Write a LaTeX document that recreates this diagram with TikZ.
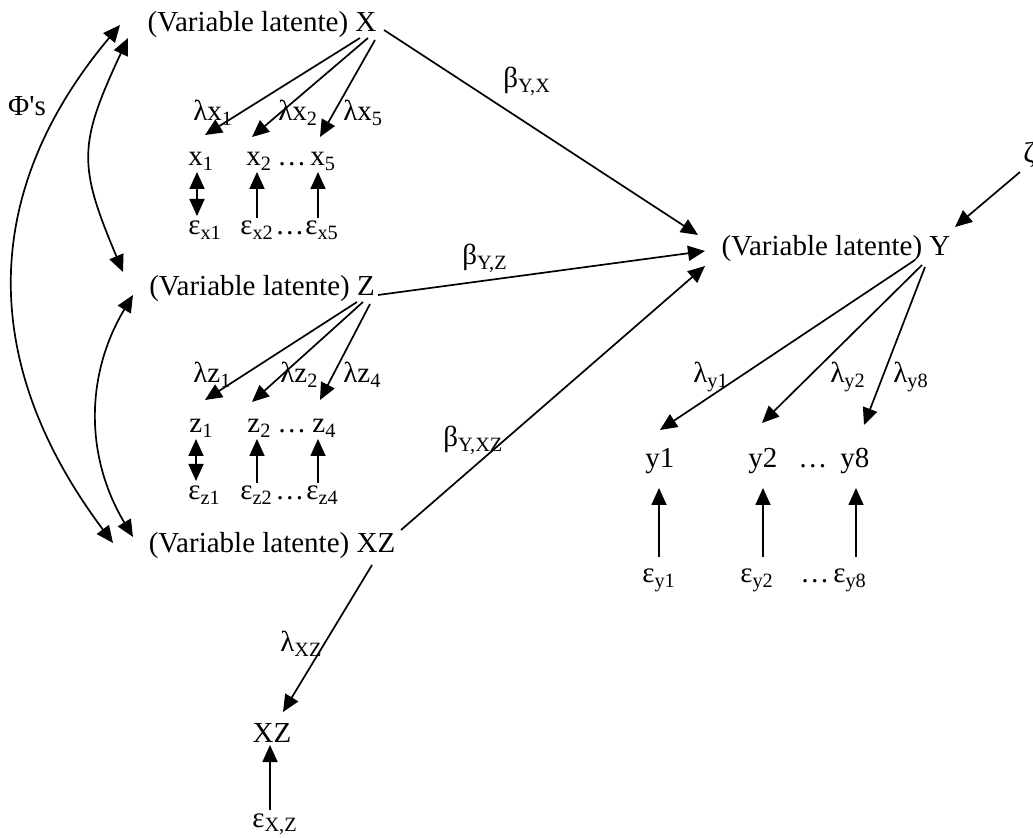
\documentclass[tikz,border=0pt]{standalone}
\usepackage{fontspec}
\setmainfont{Liberation Serif}
\newfontfamily\plainserif{Liberation Serif}
\usetikzlibrary{arrows.meta,calc}
\newcommand\sub[1]{\textsubscript{#1}}
\tikzset{
  lab/.style={inner sep=0pt, font=\fontsize{14.5}{17}\selectfont},
  arr/.style={-{Triangle[length=8.5pt,width=7.5pt]}, line width=0.85pt},
  darr/.style={{Triangle[length=8.5pt,width=7.5pt]}-{Triangle[length=8.5pt,width=7.5pt]}, line width=0.85pt},
}
\begin{document}
\begin{tikzpicture}[x=0.5pt,y=-0.5pt]
\fill[white] (0,0) rectangle (1033,838);
\useasboundingbox (0,0) rectangle (1033,838);

% latent variables
\node[lab,anchor=base] (LX)  at (262,32)  {(Variable latente) X};
\node[lab,anchor=base] (LZ)  at (262,296) {(Variable latente) Z};
\node[lab,anchor=base] (LXZ) at (272,553) {(Variable latente) XZ};
\node[lab,anchor=base] (LY)  at (836,256) {(Variable latente) Y};
\node[lab,anchor=base] (phi) at (27,116)  {\plainserif Φ's};
\node[lab,anchor=base west] (zeta) at (1023,163) {ζ};

% X block
\node[lab,anchor=base west] (lx1) at (193,121) {λx\sub{1}};
\node[lab,anchor=base west] (lx2) at (278,121) {λx\sub{2}};
\node[lab,anchor=base west] (lx5) at (343,121) {λx\sub{5}};
\node[lab,anchor=base west] (x1) at (188,166) {x\sub{1}};
\node[lab,anchor=base west] (x2) at (246,166) {x\sub{2}};
\node[lab,anchor=base west] (xd) at (277,166) {…};
\node[lab,anchor=base west] (x5) at (310,166) {x\sub{5}};
\node[lab,anchor=base west] (ex1) at (188,235) {ε\sub{x1}};
\node[lab,anchor=base west] (ex2) at (240,235) {ε\sub{x2}};
\node[lab,anchor=base west] (exd) at (275,235) {…};
\node[lab,anchor=base west] (ex5) at (305,235) {ε\sub{x5}};

% Z block
\node[lab,anchor=base west] (lz1) at (193,383) {λz\sub{1}};
\node[lab,anchor=base west] (lz2) at (280,383) {λz\sub{2}};
\node[lab,anchor=base west] (lz4) at (343,383) {λz\sub{4}};
\node[lab,anchor=base west] (z1) at (189,433) {z\sub{1}};
\node[lab,anchor=base west] (z2) at (247,433) {z\sub{2}};
\node[lab,anchor=base west] (zd) at (277,433) {…};
\node[lab,anchor=base west] (z4) at (312,433) {z\sub{4}};
\node[lab,anchor=base west] (ez1) at (188,500) {ε\sub{z1}};
\node[lab,anchor=base west] (ez2) at (240,500) {ε\sub{z2}};
\node[lab,anchor=base west] (ezd) at (275,500) {…};
\node[lab,anchor=base west] (ez4) at (306,500) {ε\sub{z4}};

% Y block
\node[lab,anchor=base west] (ly1) at (693,383) {λ\sub{y1}};
\node[lab,anchor=base west] (ly2) at (830,383) {λ\sub{y2}};
\node[lab,anchor=base west] (ly8) at (893,383) {λ\sub{y8}};
\node[lab,anchor=base west] (y1) at (645,468) {y1};
\node[lab,anchor=base west] (y2) at (748,468) {y2};
\node[lab,anchor=base west] (yd) at (798,468) {…};
\node[lab,anchor=base west] (y8) at (840,468) {y8};
\node[lab,anchor=base west] (ey1) at (642,583) {ε\sub{y1}};
\node[lab,anchor=base west] (ey2) at (740,583) {ε\sub{y2}};
\node[lab,anchor=base west] (eyd) at (800,583) {…};
\node[lab,anchor=base west] (ey8) at (833,583) {ε\sub{y8}};

% XZ block
\node[lab,anchor=base west] (lxz) at (280,652) {λ\sub{XZ}};
\node[lab,anchor=base] (XZ) at (272,742) {XZ};
\node[lab,anchor=base west] (exz) at (252,827) {ε\sub{X,Z}};

% beta labels
\node[lab,anchor=base west] (bYX)  at (503,88)  {β\sub{Y,X}};
\node[lab,anchor=base west] (bYZ)  at (462,265) {β\sub{Y,Z}};
\node[lab,anchor=base west] (bYXZ) at (443,447) {β\sub{Y,XZ}};

% X loadings
\draw[arr] ($(LX.base)+(98,6)$)  -- ($(x1.base west)+(17,-31)$);
\draw[arr] ($(LX.base)+(106,6)$) -- ($(x2.base west)+(6,-29)$);
\draw[arr] ($(LX.base)+(113,8)$) -- ($(x5.base west)+(10,-29)$);
\draw[darr] ($(x1.base west)+(9,6)$) -- ($(ex1.base west)+(9,-19)$);
\draw[arr] ($(ex2.base west)+(17,-17)$) -- ($(x2.base west)+(11,6)$);
\draw[arr] ($(ex5.base west)+(13,-17)$) -- ($(x5.base west)+(8,6)$);

% Z loadings
\draw[arr] ($(LZ.base)+(95,6)$)  -- ($(z1.base west)+(16,-33)$);
\draw[arr] ($(LZ.base)+(101,6)$) -- ($(z2.base west)+(5,-31)$);
\draw[arr] ($(LZ.base)+(108,8)$) -- ($(z4.base west)+(8,-33)$);
\draw[darr] ($(z1.base west)+(7,6)$) -- ($(ez1.base west)+(8,-19)$);
\draw[arr] ($(ez2.base west)+(17,-17)$) -- ($(z2.base west)+(10,6)$);
\draw[arr] ($(ez4.base west)+(12,-17)$) -- ($(z4.base west)+(6,6)$);

% Y loadings
\draw[arr] ($(LY.base)+(79,4)$)  -- ($(y1.base west)+(15,-38)$);
\draw[arr] ($(LY.base)+(86,9)$)  -- ($(y2.base west)+(14,-45)$);
\draw[arr] ($(LY.base)+(89,11)$) -- ($(y8.base west)+(24,-43)$);
\draw[arr] ($(ey1.base west)+(17,-26)$) -- ($(y1.base west)+(14,20)$);
\draw[arr] ($(ey2.base west)+(23,-26)$) -- ($(y2.base west)+(15,20)$);
\draw[arr] ($(ey8.base west)+(23,-26)$) -- ($(y8.base west)+(16,20)$);

% structural paths
\draw[arr] ($(LX.base)+(122,-2)$)  -- ($(LY.base)+(-138,-21)$);
\draw[arr] ($(LZ.base)+(116,-1)$)  -- ($(LY.base)+(-131,-5)$);
\draw[arr] ($(LXZ.base)+(129,-23)$) -- ($(LY.base)+(-131,10)$);
\draw[arr] ($(zeta.base west)+(-3,9)$) -- ($(LY.base)+(119,-29)$);

% XZ indicator
\draw[arr] ($(LXZ.base)+(100,12)$) -- ($(XZ.base)+(11,-30)$);
\draw[arr] ($(exz.base west)+(18,-17)$) -- ($(XZ.base)+(-2,3)$);

% covariances (Phi's)
\draw[darr] ($(LX.base)+(-142,-7)$) .. controls +(-141,168) and +(-134,-179) .. ($(LXZ.base)+(-159,-10)$);
\draw[darr] ($(LX.base)+(-134,6)$) .. controls +(-50,107) and +(-45,-107) .. ($(LZ.base)+(-139,-24)$);
\draw[darr] ($(LZ.base)+(-129,-1)$) .. controls +(-48,80) and +(-48,-80) .. ($(LXZ.base)+(-139,-16)$);
\end{tikzpicture}
\end{document}
